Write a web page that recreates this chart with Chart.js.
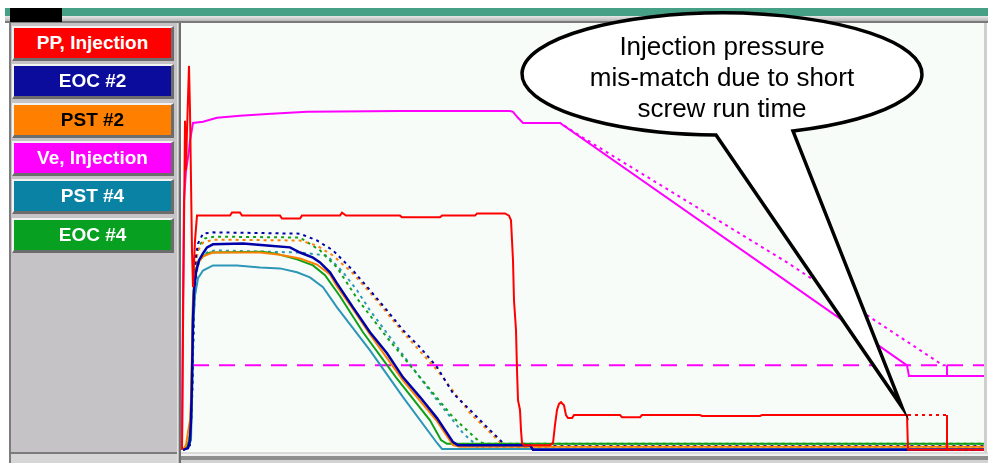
<!DOCTYPE html>
<html>
<head>
<meta charset="utf-8">
<script src="https://cdn.jsdelivr.net/npm/chart.js@4/dist/chart.umd.min.js"></script>
<style>
  html, body { margin: 0; padding: 0; background: #ffffff; width: 988px; height: 463px; overflow: hidden;
               font-family: "Liberation Sans", Arial, sans-serif; }
  .abs { position: absolute; box-sizing: border-box; }
  #topbar  { left: 5px; top: 8px; width: 983px; height: 8px; background: #45a086; }
  #topband { left: 5px; top: 16px; width: 983px; height: 7px; background: linear-gradient(#e8e8e8, #b6b6b6); border-bottom: 2px solid #7a7a7a; }
  #tab     { left: 10px; top: 8px; width: 52px; height: 14px; background: #000; }
  #panel   { left: 9px; top: 23px; width: 170px; height: 431px; background: #c5c3c5;
             border-left: 2px solid #7c7c7c; border-right: 2px solid #8a8a8a; border-bottom: 2px solid #7c7c7c; }
  #panelfoot { left: 9px; top: 454px; width: 171px; height: 9px; background: #d6d6d6; border-left: 2px solid #7c7c7c; }
  #plotedge { left: 177px; top: 23px; width: 4px; height: 440px; border-left: 1px solid #e2e2e2; border-right: 2px solid #6e6e6e; background: #bdbdbd; }
  #plotright { left: 984px; top: 23px; width: 3px; height: 430px; background: #cfcfcf; }
  #plotfoot { left: 181px; top: 452px; width: 807px; height: 11px;
              background: linear-gradient(#dadada 0px, #dadada 2px, #f0f0f0 2px, #f0f0f0 4px, #8e8e8e 4px, #8e8e8e 8px, #d2d2d2 8px); }
  #legend .btn { position: absolute; left: 12px; width: 162px; height: 35px; box-sizing: border-box;
                 border-top: 2px solid #f2f2f2; border-left: 2px solid #f2f2f2;
                 border-right: 3px solid #6c6c6c; border-bottom: 3px solid #6c6c6c;
                 font-weight: bold; font-size: 19px; line-height: 30px; text-align: center; white-space: nowrap; }
  #chart { position: absolute; left: 0; top: 0; z-index: 1; }
  #callout { left: 522px; top: 31px; width: 400px; z-index: 2; text-align: center;
             font-size: 26px; line-height: 31px; color: #000; }
</style>
</head>
<body>
<div class="abs" id="topbar"></div>
<div class="abs" id="topband"></div>
<div class="abs" id="tab"></div>
<div class="abs" id="panel"></div>
<div class="abs" id="panelfoot"></div>
<div class="abs" id="plotedge"></div>
<div class="abs" id="plotright"></div>
<div class="abs" id="plotfoot"></div>
<div id="legend" class="abs" style="left:0;top:0;z-index:2;"></div>
<canvas id="chart" width="988" height="463"></canvas>
<div class="abs" id="callout">Injection pressure<br>mis-match due to short<br>screw run time</div>

<script>
// Injection cycle traces: [time (s), % of full scale]
const seriesNames = ['PP, Injection', 'EOC #2', 'PST #2', 'Ve, Injection', 'PST #4', 'EOC #4'];

// Hydraulic injection pressure, current cycle
const ppInjection = [
  [0.01,0.5],[0.02,28.4],[0.04,77.2],[0.05,65.6],[0.06,74.9],[0.08,90.0],[0.09,79.5],[0.11,47.0],
  [0.12,38.4],[0.14,49.3],[0.16,55.1],[0.49,55.1],[0.51,55.8],[0.59,55.8],[0.61,55.1],[0.99,55.1],
  [1.01,54.4],[1.19,54.4],[1.21,55.1],[1.59,55.1],[1.61,55.8],[1.65,55.1],[2.19,55.1],[2.21,54.7],
  [2.59,54.7],[2.61,55.1],[2.94,55.1],[2.96,55.6],[3.24,55.6],[3.28,55.1],[3.30,54.0],[3.32,44.7],
  [3.33,35.3],[3.35,28.4],[3.36,19.1],[3.37,12.1],[3.39,9.8],[3.40,5.1],[3.41,2.1],[3.43,1.6],
  [3.69,1.6],[3.72,2.1],[3.74,6.3],[3.76,9.8],[3.78,11.2],[3.80,11.6],[3.83,10.9],[3.85,8.6],
  [3.87,7.9],[3.91,7.9],[3.93,8.6],[4.39,8.6],[4.41,8.1],[4.59,8.1],[4.61,8.6],[5.19,8.6],
  [5.21,8.4],[5.79,8.4],[5.81,8.6],[7.26,8.6],[7.27,0.5],[8.03,0.5]
];
// Hydraulic injection pressure, reference cycle (end of hold)
const ppInjectionRef = [[6.99,8.6],[7.66,8.6],[7.66,0.5],[8.03,0.5]];

// Injection velocity, current cycle
const veInjection = [
  [0.01,0.5],[0.02,35.3],[0.03,58.6],[0.05,65.6],[0.08,70.2],[0.09,72.6],[0.11,75.3],[0.12,76.7],
  [0.22,77.0],[0.36,77.9],[0.59,78.4],[0.86,78.8],[1.26,79.3],[2.19,79.5],[3.29,79.5],[3.32,79.3],
  [3.37,77.9],[3.42,76.7],[3.79,76.7],[7.26,20.2],[7.28,17.7],[8.03,17.7]
];
// Injection velocity, reference cycle
const veInjectionRef = [
  [3.42,76.7],[3.79,76.7],[3.99,73.7],[6.06,44.2],[7.62,20.2],[7.66,20.2],[7.66,17.7],[8.03,17.7]
];
// Velocity switch-over level
const veSwitchLevel = [[0.12,20.2],[8.03,20.2]];

// Cavity sensors, current cycle
const eoc2 = [
  [0.02,0.5],[0.07,0.9],[0.09,2.8],[0.10,7.4],[0.11,16.7],[0.12,30.7],[0.13,37.7],[0.15,41.9],
  [0.18,44.7],[0.22,46.3],[0.26,47.7],[0.32,48.4],[0.62,48.6],[0.89,48.1],[1.09,47.7],[1.19,46.5],
  [1.32,45.3],[1.39,44.2],[1.49,41.9],[1.56,39.3],[1.72,33.7],[1.89,27.9],[2.06,23.0],[2.22,17.4],
  [2.39,12.8],[2.56,7.9],[2.72,2.3],[2.77,1.6],[3.49,1.6],[3.52,0.5],[8.03,0.5]
];
const pst2 = [
  [0.02,0.5],[0.05,1.6],[0.07,4.7],[0.09,7.4],[0.10,12.1],[0.11,23.7],[0.12,35.3],[0.14,41.2],
  [0.17,44.0],[0.22,45.6],[0.32,46.5],[0.79,46.5],[0.99,46.0],[1.19,45.1],[1.36,43.7],[1.49,41.4],
  [1.56,38.6],[1.72,33.3],[1.89,27.4],[2.22,16.7],[2.56,7.2],[2.72,1.6],[2.79,1.2],[8.03,1.2]
];
const eoc4 = [
  [0.02,0.5],[0.06,1.2],[0.08,2.8],[0.10,7.4],[0.11,21.4],[0.12,35.3],[0.14,41.9],[0.17,44.2],
  [0.22,45.6],[0.29,46.5],[0.81,46.7],[0.94,46.3],[1.16,44.9],[1.32,43.5],[1.44,41.2],[1.59,36.3],
  [1.82,27.9],[2.15,17.4],[2.49,7.4],[2.60,2.8],[2.66,1.9],[8.03,1.9]
];
const pst4 = [
  [0.02,0.5],[0.07,0.9],[0.10,2.8],[0.11,12.1],[0.12,28.4],[0.14,36.5],[0.17,40.5],[0.22,42.3],
  [0.32,43.5],[0.56,43.5],[0.79,43.0],[0.99,42.8],[1.16,41.9],[1.29,40.7],[1.42,38.4],[1.56,33.7],
  [1.89,23.7],[2.22,12.8],[2.56,2.1],[2.61,0.7],[8.03,0.7]
];

// Cavity sensors, reference cycle
const eoc2Ref = [
  [0.02,0.5],[0.09,1.6],[0.11,12.1],[0.13,35.3],[0.15,45.8],[0.17,48.6],[0.22,50.9],[0.32,51.2],
  [1.19,50.9],[1.36,49.3],[1.52,47.0],[1.72,42.3],[1.89,37.7],[2.06,33.0],[2.22,28.4],[2.39,24.4],
  [2.56,19.8],[2.72,13.7],[2.89,9.8],[3.06,5.8],[3.19,2.8],[3.25,1.4],[8.03,1.4]
];
const pst2Ref = [
  [0.02,0.5],[0.08,1.6],[0.10,7.4],[0.12,30.7],[0.14,42.3],[0.17,47.0],[0.22,48.8],[0.32,49.5],
  [1.19,49.3],[1.36,48.1],[1.52,45.8],[1.72,41.6],[1.89,37.2],[2.22,27.9],[2.56,19.1],[2.89,9.1],
  [3.19,2.3],[3.25,1.2],[8.03,1.2]
];
const eoc4Ref = [
  [0.02,0.5],[0.09,1.6],[0.11,12.1],[0.13,35.3],[0.15,44.7],[0.18,48.1],[0.24,49.8],[0.34,50.2],
  [1.19,50.0],[1.39,47.0],[1.56,43.0],[1.76,35.8],[2.06,26.7],[2.39,17.4],[2.72,8.1],[2.89,4.4],
  [2.99,2.3],[3.05,1.9],[8.03,1.9]
];
const pst4Ref = [
  [0.02,0.5],[0.09,1.6],[0.11,12.1],[0.13,33.0],[0.16,42.3],[0.19,45.1],[0.26,46.5],[0.34,47.0],
  [1.19,46.5],[1.46,45.8],[1.62,41.9],[1.76,37.7],[1.89,33.0],[2.06,27.7],[2.22,22.6],[2.56,12.1],
  [2.82,4.4],[2.92,2.3],[2.97,0.9],[8.03,0.9]
];

// Styling
const buttonColors = ['#fe0000', '#0c0c9c', '#ff8000', '#ff00ff', '#0a82a4', '#08a020'];
const buttonText   = ['#ffffff', '#ffffff', '#000000', '#ffffff', '#ffffff', '#ffffff'];
const C = { pp: '#ff0000', eoc2: '#0000a8', pst2: '#ff8000', ve: '#ff00ff', pst4: '#2b96b8', eoc4: '#10a018' };

// Side legend
const legendEl = document.getElementById('legend');
seriesNames.forEach((name, i) => {
  const b = document.createElement('div');
  b.className = 'btn';
  b.style.top = (26 + Math.round(i * 38.3)) + 'px';
  b.style.background = buttonColors[i];
  b.style.color = buttonText[i];
  b.textContent = name;
  legendEl.appendChild(b);
});

const xy = a => a.map(([x, y]) => ({ x, y }));
const dotted = [3, 4];
const solidOnSteps = { borderDash: c => (c.p0.parsed.x === c.p1.parsed.x ? [] : undefined) };

function line(label, data, color, width, dash) {
  return {
    label, data: xy(data), borderColor: color, borderWidth: width,
    borderDash: dash || [], segment: dash ? solidOnSteps : undefined,
    pointRadius: 0, tension: 0, fill: false
  };
}

const plotBackground = {
  id: 'plotBackground',
  beforeDraw(chart) {
    const { ctx, chartArea: a } = chart;
    ctx.save();
    ctx.fillStyle = '#f8fcf8';
    ctx.fillRect(a.left, a.top, a.right - a.left, a.bottom - a.top);
    ctx.restore();
  }
};

// Speech bubble pointing at the end of the hydraulic pressure hold
const calloutShape = {
  id: 'calloutShape',
  afterDraw(chart) {
    const { ctx, scales } = chart;
    const cx = 722, cy = 74, rx = 200, ry = 61;
    const tipX = scales.x.getPixelForValue(7.26) - 5;
    const tipY = scales.y.getPixelForValue(8.6) - 8;
    const a1 = Math.acos((793 - cx) / rx);
    const a2 = Math.acos((716 - cx) / rx);
    ctx.save();
    ctx.beginPath();
    ctx.ellipse(cx, cy, rx, ry, 0, a1, a2, true);
    ctx.lineTo(tipX, tipY);
    ctx.closePath();
    ctx.fillStyle = '#ffffff';
    ctx.fill();
    ctx.lineWidth = 3.5;
    ctx.lineJoin = 'miter';
    ctx.strokeStyle = '#000000';
    ctx.stroke();
    ctx.restore();
  }
};

new Chart(document.getElementById('chart'), {
  type: 'line',
  data: {
    datasets: [
      line('PP, Injection', ppInjection, C.pp, 2),
      line('PP, Injection (ref)', ppInjectionRef, C.pp, 2, dotted),
      line('Ve, Injection', veInjection, C.ve, 2),
      line('Ve, Injection (ref)', veInjectionRef, C.ve, 2, dotted),
      line('EOC #2', eoc2, C.eoc2, 2.5),
      line('PST #2', pst2, C.pst2, 2),
      line('EOC #4', eoc4, C.eoc4, 2),
      line('PST #4', pst4, C.pst4, 2),
      line('EOC #2 (ref)', eoc2Ref, C.eoc2, 2, dotted),
      line('PST #2 (ref)', pst2Ref, C.pst2, 2, dotted),
      line('EOC #4 (ref)', eoc4Ref, C.eoc4, 2, dotted),
      line('PST #4 (ref)', pst4Ref, C.pst4, 2, dotted),
      line('Ve switch-over', veSwitchLevel, C.ve, 2, [16, 10])
    ]
  },
  options: {
    responsive: false,
    animation: false,
    devicePixelRatio: 1,
    layout: { padding: { left: 181, top: 23, right: 4, bottom: 11 } },
    scales: {
      x: { type: 'linear', min: 0, max: 8.03, display: false },
      y: { type: 'linear', min: 0, max: 100, display: false }
    },
    plugins: { legend: { display: false }, tooltip: { enabled: false } }
  },
  plugins: [plotBackground, calloutShape]
});
</script>
</body>
</html>
